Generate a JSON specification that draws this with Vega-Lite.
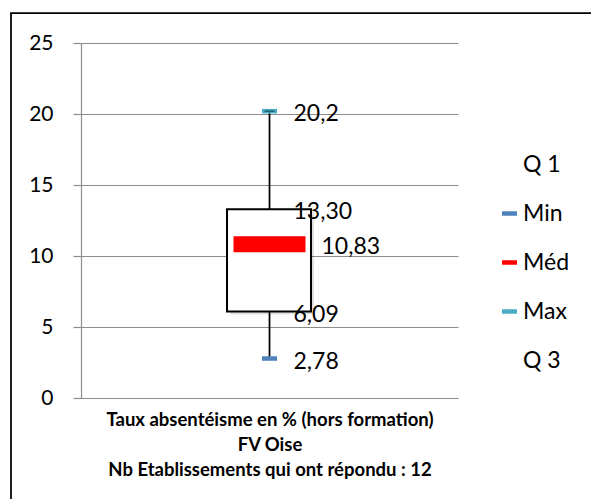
{
  "$schema": "https://vega.github.io/schema/vega-lite/v6.json",
  "width": 600,
  "height": 520,
  "autosize": {"type": "none"},
  "padding": {"left": 11, "top": 13, "right": 0, "bottom": 0},
  "background": "white",
  "config": {
    "view": {"stroke": "#000", "strokeWidth": 1.75},
    "font": "Lato"
  },
  "data": {
    "values": [
      {"serie": "Min", "valeur": 2.78, "etiquette": "2,78"},
      {"serie": "Q 1", "valeur": 6.09, "etiquette": "6,09"},
      {"serie": "Méd", "valeur": 10.83, "etiquette": "10,83"},
      {"serie": "Q 3", "valeur": 13.30, "etiquette": "13,30"},
      {"serie": "Max", "valeur": 20.2, "etiquette": "20,2"}
    ]
  },
  "layer": [
    {
      "transform": [{"pivot": "serie", "value": "valeur"}],
      "mark": {"type": "rule", "color": "#000", "strokeWidth": 1.75},
      "encoding": {
        "x": {
          "datum": 0.5, "type": "quantitative",
          "scale": {"domain": [0, 1], "range": [70, 447], "nice": false, "zero": false},
          "axis": {
            "orient": "bottom", "offset": -135, "ticks": false, "labels": false, "grid": false,
            "domainColor": "#8c8c8c", "domainWidth": 1.2,
            "title": ["Taux absentéisme en % (hors formation)", "FV Oise", "Nb Etablissements qui ont répondu : 12"],
            "titleFont": "Lato", "titleFontSize": 18.5, "titleFontWeight": "bold", "titleColor": "#000",
            "titleLineHeight": 25, "titlePadding": 12
          }
        },
        "y": {
          "field": "Min", "type": "quantitative", "title": null,
          "scale": {"domain": [0, 25], "range": [385, 30], "nice": false, "zero": true},
          "axis": {
            "values": [0, 5, 10, 15, 20, 25], "offset": -70, "title": null,
            "grid": true, "gridColor": "#8c8c8c", "gridWidth": 1.2,
            "domainColor": "#8c8c8c", "domainWidth": 1.2,
            "tickColor": "#8c8c8c", "tickWidth": 1.2, "tickSize": 8,
            "labelPadding": 20, "labelFont": "Lato", "labelFontSize": 21, "labelColor": "#000"
          }
        },
        "y2": {"field": "Max"}
      }
    },
    {
      "transform": [{"pivot": "serie", "value": "valeur"}],
      "mark": {"type": "rect", "fill": "#000", "opacity": 0.12, "xOffset": 3, "x2Offset": 3, "yOffset": 3, "y2Offset": 3},
      "encoding": {
        "x": {"datum": 0.3873, "type": "quantitative"},
        "x2": {"datum": 0.6101},
        "y": {"field": "Q 1", "type": "quantitative", "title": null},
        "y2": {"field": "Q 3"}
      }
    },
    {
      "transform": [{"pivot": "serie", "value": "valeur"}],
      "mark": {"type": "rect", "fill": "white", "stroke": "#000", "strokeWidth": 2},
      "encoding": {
        "x": {"datum": 0.3873, "type": "quantitative"},
        "x2": {"datum": 0.6101},
        "y": {"field": "Q 1", "type": "quantitative", "title": null},
        "y2": {"field": "Q 3"}
      }
    },
    {
      "transform": [{"filter": "datum.serie === 'Méd'"}],
      "mark": {"type": "tick", "orient": "horizontal", "size": 72, "thickness": 16, "opacity": 1},
      "encoding": {
        "x": {"datum": 0.5, "type": "quantitative"},
        "y": {"field": "valeur", "type": "quantitative", "title": null},
        "color": {
          "field": "serie", "type": "nominal",
          "scale": {
            "domain": ["Q 1", "Min", "Méd", "Max", "Q 3"],
            "range": ["transparent", "#4F81BD", "#FF0000", "#4BACC6", "transparent"]
          },
          "legend": {
            "orient": "none", "legendX": 487, "legendY": 140, "title": null, "padding": 0,
            "labelFont": "Lato", "labelFontSize": 23, "labelColor": "#000", "labelLimit": 200,
            "symbolType": "M-1,-0.3H1V0.3H-1Z", "symbolSize": 225, "symbolStrokeWidth": 0,
            "rowPadding": 25, "labelOffset": 2,
            "encode": {"symbols": {"update": {"size": {"signal": "datum.value === 'Méd' ? 330 : 225"}}}}
          }
        }
      }
    },
    {
      "transform": [{"filter": "datum.serie === 'Min' || datum.serie === 'Max'"}],
      "mark": {"type": "tick", "orient": "horizontal", "size": 15, "thickness": 4.5, "opacity": 1},
      "encoding": {
        "x": {"datum": 0.5, "type": "quantitative"},
        "y": {"field": "valeur", "type": "quantitative", "title": null},
        "color": {"field": "serie", "type": "nominal"}
      }
    },
    {
      "transform": [{"filter": "datum.serie === 'Max'"}],
      "mark": {"type": "tick", "orient": "horizontal", "size": 10, "thickness": 1.5, "color": "#1F5F73", "opacity": 1},
      "encoding": {
        "x": {"datum": 0.5, "type": "quantitative"},
        "y": {"field": "valeur", "type": "quantitative", "title": null}
      }
    },
    {
      "transform": [{"filter": "datum.serie !== 'Méd'"}],
      "mark": {"type": "text", "align": "left", "baseline": "middle", "dx": 24, "dy": 3, "font": "Lato", "fontSize": 23, "color": "#000"},
      "encoding": {
        "x": {"datum": 0.5, "type": "quantitative"},
        "y": {"field": "valeur", "type": "quantitative", "title": null},
        "text": {"field": "etiquette"}
      }
    },
    {
      "transform": [{"filter": "datum.serie === 'Méd'"}],
      "mark": {"type": "text", "align": "left", "baseline": "middle", "dx": 52, "dy": 3, "font": "Lato", "fontSize": 23, "color": "#000"},
      "encoding": {
        "x": {"datum": 0.5, "type": "quantitative"},
        "y": {"field": "valeur", "type": "quantitative", "title": null},
        "text": {"field": "etiquette"}
      }
    }
  ]
}
